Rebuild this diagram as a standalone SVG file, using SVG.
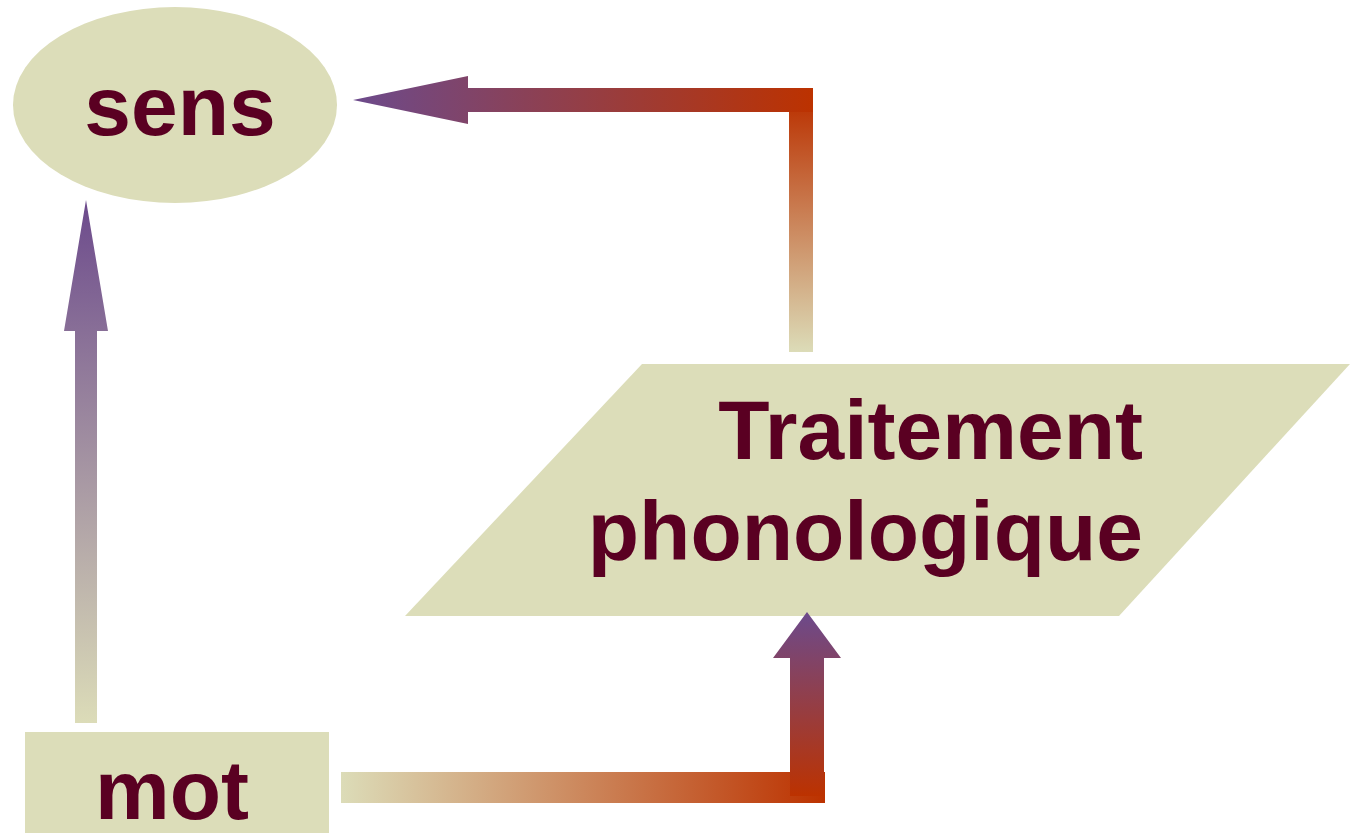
<svg xmlns="http://www.w3.org/2000/svg" width="1350" height="833" viewBox="0 0 1350 833">
<style>
.node{fill:#dcddb9}
.lbl{font-family:"Liberation Sans",Arial,sans-serif;font-weight:bold;font-size:84px;fill:#5a0022}
</style>
<defs>
<linearGradient id="gLeft" x1="0" y1="200" x2="0" y2="723" gradientUnits="userSpaceOnUse">
<stop offset="0" stop-color="#6c4a8c"/><stop offset="1" stop-color="#dcdcb8"/>
</linearGradient>
<linearGradient id="gTopH" x1="353" y1="0" x2="813" y2="0" gradientUnits="userSpaceOnUse">
<stop offset="0" stop-color="#6c4a8c"/><stop offset="1" stop-color="#bc3200"/>
</linearGradient>
<linearGradient id="gTopV" x1="0" y1="112" x2="0" y2="352" gradientUnits="userSpaceOnUse">
<stop offset="0" stop-color="#bc3a0a"/><stop offset="1" stop-color="#dcdcb8"/>
</linearGradient>
<linearGradient id="gBotH" x1="341" y1="0" x2="825" y2="0" gradientUnits="userSpaceOnUse">
<stop offset="0" stop-color="#dcdcb8"/><stop offset="1" stop-color="#bc3200"/>
</linearGradient>
<linearGradient id="gBotV" x1="0" y1="612" x2="0" y2="796" gradientUnits="userSpaceOnUse">
<stop offset="0" stop-color="#6c4a8c"/><stop offset="1" stop-color="#bc3200"/>
</linearGradient>
</defs>
<g id="sens">
<ellipse class="node" cx="175" cy="105" rx="162" ry="98"/>
<text class="lbl" x="180" y="135" text-anchor="middle">sens</text>
</g>
<g id="mot">
<rect class="node" x="25" y="732" width="304" height="101"/>
<text class="lbl" x="172" y="819" text-anchor="middle">mot</text>
</g>
<g id="traitement">
<polygon class="node" points="642,364 1350,364 1119,616 405,616"/>
<text class="lbl" x="1143" y="459" text-anchor="end">Traitement</text>
<text class="lbl" x="1143" y="560" text-anchor="end">phonologique</text>
</g>
<g id="connectors">
<polygon fill="url(#gLeft)" points="86,200 108,331 97,331 97,723 75,723 75,331 64,331"/>
<rect fill="url(#gTopV)" x="789" y="112" width="24" height="240"/>
<polygon fill="url(#gTopH)" points="353,100 468,76 468,88 813,88 813,112 468,112 468,124"/>
<rect fill="url(#gBotH)" x="341" y="772" width="484" height="31"/>
<polygon fill="url(#gBotV)" points="807,612 841,658 824,658 824,796 790,796 790,658 773,658"/>
</g>
</svg>
